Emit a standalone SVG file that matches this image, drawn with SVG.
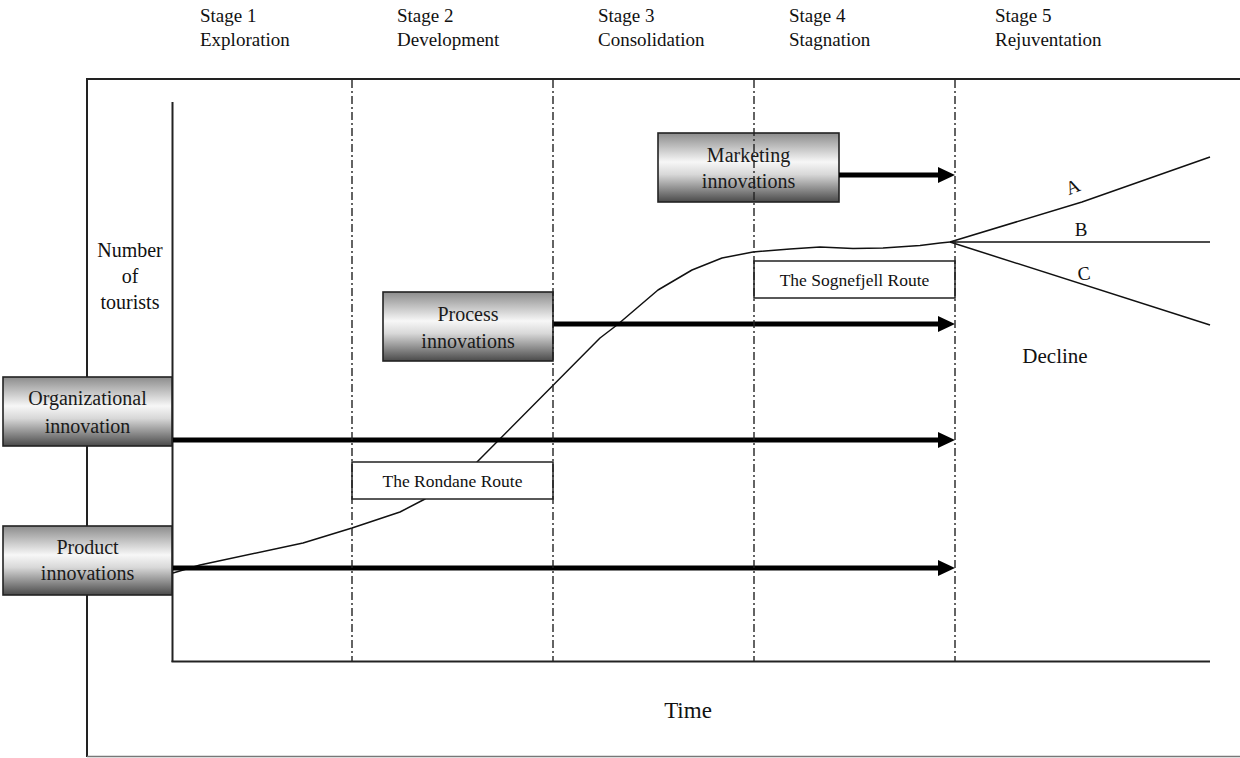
<svg xmlns="http://www.w3.org/2000/svg" width="1240" height="758" viewBox="0 0 1240 758">
  <defs>
    <linearGradient id="boxGrad" x1="0" y1="0" x2="0" y2="1">
      <stop offset="0" stop-color="#8c8c8c"/>
      <stop offset="0.42" stop-color="#f7f7f7"/>
      <stop offset="0.6" stop-color="#d8d8d8"/>
      <stop offset="1" stop-color="#4a4a4a"/>
    </linearGradient>
    <marker id="arrow" markerUnits="userSpaceOnUse" markerWidth="18" markerHeight="18" viewBox="0 0 18 18" refX="7" refY="8" orient="auto">
      <path d="M0,0 L17,8 L0,16 z" fill="#000"/>
    </marker>
    <style>
      text { font-family: "Liberation Serif", "Times New Roman", serif; fill: #111; }
      .hdr { font-size: 19px; }
      .box { fill: url(#boxGrad); stroke: #222; stroke-width: 1.6; }
      .boxtxt { font-size: 20px; text-anchor: middle; fill: #1a1a1a; }
      .route { fill: #fff; stroke: #222; stroke-width: 1.5; }
      .routetxt { font-size: 17.5px; text-anchor: middle; }
      .axis { stroke: #222; stroke-width: 2; fill: none; }
      .divider { stroke: #222; stroke-width: 1.4; stroke-dasharray: 8 3 2 3; fill: none; }
      .flow { stroke: #000; stroke-width: 5; fill: none; marker-end: url(#arrow); }
      .curve { stroke: #111; stroke-width: 1.5; fill: none; stroke-linejoin: round; }
      .lbl { font-size: 19px; text-anchor: middle; }
    </style>
  </defs>

  <rect width="1240" height="758" fill="#fff"/>

  <!-- stage headers -->
  <g id="stage-headers">
    <text class="hdr" x="200" y="22">Stage 1</text>
    <text class="hdr" x="200" y="46">Exploration</text>
    <text class="hdr" x="397" y="22">Stage 2</text>
    <text class="hdr" x="397" y="46">Development</text>
    <text class="hdr" x="598" y="22">Stage 3</text>
    <text class="hdr" x="598" y="46">Consolidation</text>
    <text class="hdr" x="789" y="22">Stage 4</text>
    <text class="hdr" x="789" y="46">Stagnation</text>
    <text class="hdr" x="995" y="22">Stage 5</text>
    <text class="hdr" x="995" y="46">Rejuventation</text>
  </g>

  <!-- outer frame -->
  <g id="frame">
    <line class="axis" x1="87" y1="79" x2="1240" y2="79"/>
    <line class="axis" x1="87" y1="78" x2="87" y2="757"/>
    <line x1="87" y1="756.5" x2="1240" y2="756.5" stroke="#777" stroke-width="1.5"/>
  </g>

  <!-- axes -->
  <g id="axes">
    <line class="axis" x1="172.5" y1="102" x2="172.5" y2="662"/>
    <line class="axis" x1="171.5" y1="661.5" x2="1210" y2="661.5"/>
    <text x="130" y="257" font-size="20" text-anchor="middle">Number</text>
    <text x="130" y="283" font-size="20" text-anchor="middle">of</text>
    <text x="130" y="309" font-size="20" text-anchor="middle">tourists</text>
    <text x="688" y="718" font-size="23" text-anchor="middle">Time</text>
  </g>

  <!-- life-cycle curve and branches -->
  <g id="curve">
    <path class="curve" d="M173,573 L200,565 L303,543 L352,528 L400,512 L425,499 L477,462 L600,338 L617,325 L658,290 L692,270 L722,258 L753,252 L790,249 L820,247 L853,248.5 L883,248 L920,245.5 L940,243 L950,242"/>
    <path class="curve" d="M950,242 Q1010,224 1082,202 L1210,157"/>
    <line class="curve" x1="950" y1="242" x2="1210" y2="242"/>
    <line class="curve" x1="950" y1="242" x2="1210" y2="325"/>
    <text class="lbl" x="1073" y="193" transform="rotate(-22 1073 187)">A</text>
    <text class="lbl" x="1081" y="236">B</text>
    <text class="lbl" x="1084" y="280" transform="rotate(-8 1084 274)">C</text>
    <text x="1055" y="363" font-size="21" text-anchor="middle">Decline</text>
  </g>

  <!-- route boxes -->
  <g id="rondane-route">
    <rect class="route" x="352" y="462" width="201" height="37"/>
    <text class="routetxt" x="452.5" y="487">The Rondane Route</text>
  </g>
  <g id="sognefjell-route">
    <rect class="route" x="754" y="261" width="201" height="37"/>
    <text class="routetxt" x="854.5" y="286">The Sognefjell Route</text>
  </g>

  <!-- innovation boxes -->
  <g id="marketing-innovations">
    <rect class="box" x="658" y="133" width="181" height="69"/>
    <text class="boxtxt" x="748.5" y="162">Marketing</text>
    <text class="boxtxt" x="748.5" y="188">innovations</text>
  </g>
  <g id="process-innovations">
    <rect class="box" x="383" y="292" width="170" height="69"/>
    <text class="boxtxt" x="468" y="321">Process</text>
    <text class="boxtxt" x="468" y="348">innovations</text>
  </g>
  <g id="organizational-innovation">
    <rect class="box" x="3" y="377" width="169" height="69"/>
    <text class="boxtxt" x="87.5" y="405">Organizational</text>
    <text class="boxtxt" x="87.5" y="433">innovation</text>
  </g>
  <g id="product-innovations">
    <rect class="box" x="3" y="526" width="169" height="69"/>
    <text class="boxtxt" x="87.5" y="554">Product</text>
    <text class="boxtxt" x="87.5" y="580">innovations</text>
  </g>

  <!-- connectors -->
  <g id="connectors">
    <line class="flow" x1="839" y1="175" x2="945" y2="175"/>
    <line class="flow" x1="553" y1="324" x2="945" y2="324"/>
    <line class="flow" x1="173" y1="440" x2="945" y2="440"/>
    <line class="flow" x1="173" y1="568" x2="945" y2="568"/>
  </g>

  <!-- stage dividers -->
  <g id="dividers">
    <line class="divider" x1="352" y1="80" x2="352" y2="661"/>
    <line class="divider" x1="553" y1="80" x2="553" y2="661"/>
    <line class="divider" x1="754" y1="80" x2="754" y2="661"/>
    <line class="divider" x1="955" y1="80" x2="955" y2="661"/>
  </g>
</svg>
